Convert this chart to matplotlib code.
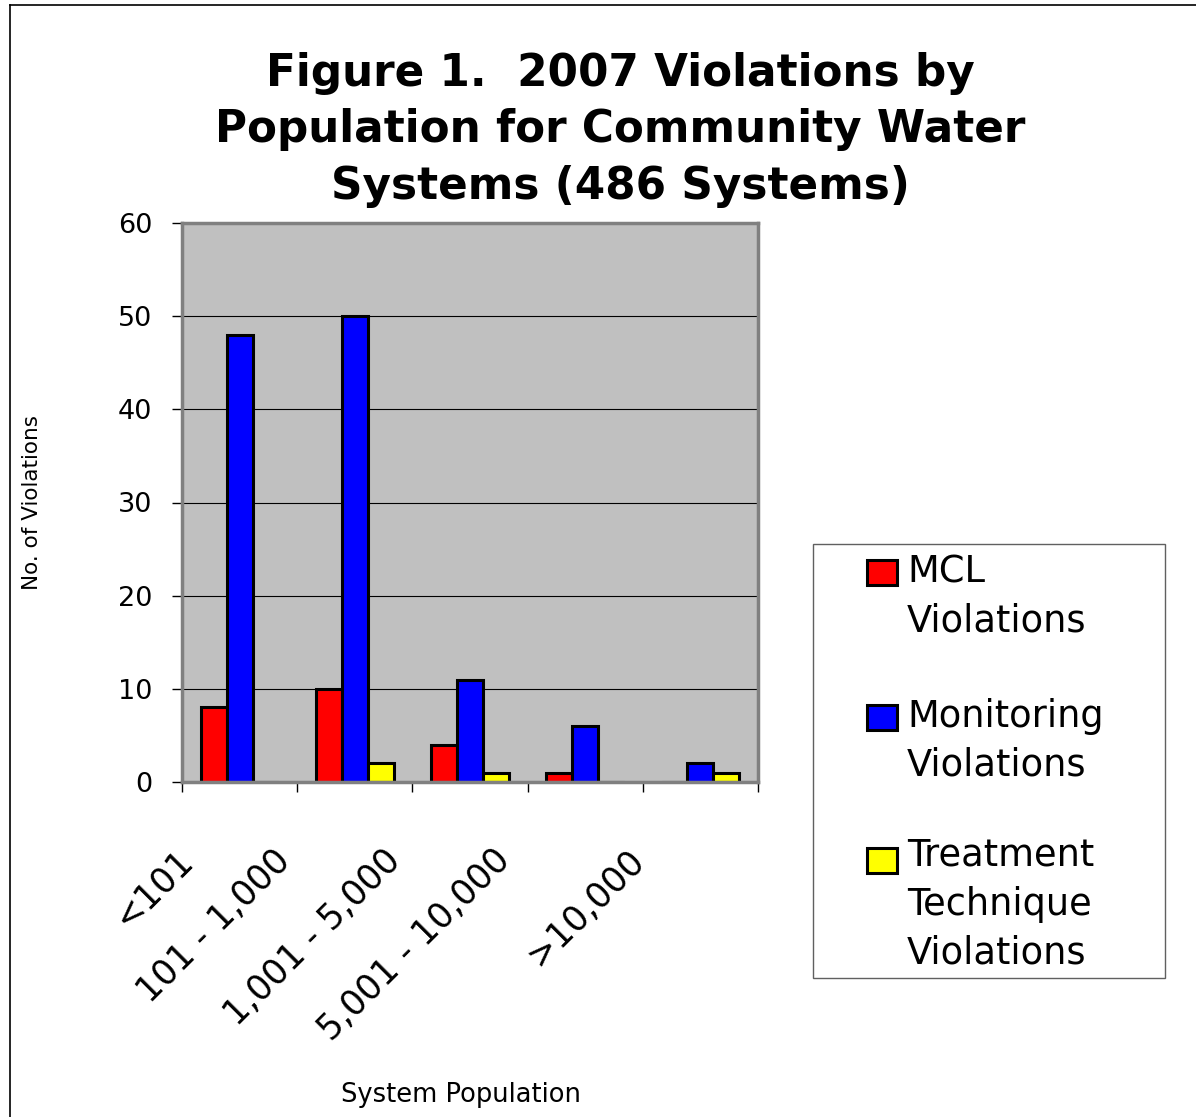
import numpy as np
import matplotlib
matplotlib.use('Agg')
import matplotlib.pyplot as plt
import matplotlib.transforms as mtransforms
from matplotlib.patches import Rectangle
from matplotlib.lines import Line2D

# data
categories = ['<101', '101 - 1,000', '1,001 - 5,000', '5,001 - 10,000', '>10,000']
mcl = [8, 10, 4, 1, 0]
monitoring = [48, 50, 11, 6, 2]
treatment = [0, 2, 1, 0, 1]
series_names = ['MCL\nViolations', 'Monitoring\nViolations', 'Treatment\nTechnique\nViolations']
series_colors = ['#FF0000', '#0000FF', '#FFFF00']
yticks = [0, 10, 20, 30, 40, 50, 60]

W, H = 1196, 1117

def fx(x):
    return x / float(W)

def fy(y):
    return 1 - y / float(H)

plt.rcParams['font.family'] = 'DejaVu Sans'

fig = plt.figure(figsize=(W / 100.0, H / 100.0), dpi=100)
fig.patch.set_facecolor('white')

# outer frame of the chart
fig.add_artist(Line2D([fx(10), fx(10)], [fy(5), 0], transform=fig.transFigure, color='black', lw=1.2))
fig.add_artist(Line2D([fx(10), 1], [fy(5), fy(5)], transform=fig.transFigure, color='black', lw=1.2))

ax = fig.add_axes([fx(182), fy(782), fx(758) - fx(182), fy(223) - fy(782)])
ax.set_facecolor('#C0C0C0')

x = np.arange(len(categories))
width = 0.225
edge_lw = 2.2
ax.bar(x - width, mcl, width, color=series_colors[0], edgecolor='black', linewidth=edge_lw, zorder=3)
ax.bar(x, monitoring, width, color=series_colors[1], edgecolor='black', linewidth=edge_lw, zorder=3)
ax.bar(x + width, treatment, width, color=series_colors[2], edgecolor='black', linewidth=edge_lw, zorder=3)

ax.set_xlim(-0.5, len(categories) - 0.5)
ax.set_ylim(0, 60)
ax.set_yticks(yticks)
ax.set_yticklabels([str(v) for v in yticks], fontsize=19.5)
ax.yaxis.grid(True, color='black', linewidth=0.8, zorder=1)
ax.set_axisbelow(True)
ax.tick_params(axis='y', direction='out', length=7.2, width=1, color='black', pad=14)

# ticks between the categories, labels drawn separately
ax.set_xticks(np.arange(len(categories) + 1) - 0.5)
ax.set_xticklabels([])
ax.tick_params(axis='x', direction='out', length=7.2, width=1, color='black')

for sp in ax.spines.values():
    sp.set_color('#808080')
    sp.set_linewidth(2.5)
    sp.set_zorder(4)

# rotated category labels (Excel style placement)
label_shift = [-0.56, -0.71, -0.755, -0.80, -0.64]
trans = mtransforms.blended_transform_factory(ax.transData, ax.transAxes)
for i in range(len(categories)):
    ax.text(x[i] + label_shift[i], -0.109, categories[i], transform=trans,
            rotation=45, rotation_mode='anchor', ha='right', va='top', fontsize=25)

# va='baseline' on multi-line text sits on the last line
fig.text(fx(620), fy(199), 'Figure 1.  2007 Violations by\nPopulation for Community Water\nSystems (486 Systems)',
         ha='center', va='baseline', fontsize=31.5, fontweight='bold', linespacing=1.4)
fig.text(fx(32), fy(503), 'No. of Violations', rotation=90, ha='center', va='center', fontsize=15.5)
fig.text(fx(461), fy(1095), 'System Population', ha='center', va='center', fontsize=18.5)

# legend box
fig.add_artist(Rectangle((fx(813), fy(978)), fx(1165) - fx(813), fy(544) - fy(978),
                         transform=fig.transFigure, facecolor='white', edgecolor='#606060', lw=1))
first_base = [586, 731, 874]
last_base = [632, 776, 964]
for i in range(len(series_names)):
    b = first_base[i]
    fig.add_artist(Rectangle((fx(867), fy(b - 1)), fx(897) - fx(867), fy(b - 26) - fy(b - 1),
                             transform=fig.transFigure, facecolor=series_colors[i],
                             edgecolor='black', lw=2.2))
    fig.text(fx(907), fy(last_base[i]), series_names[i], ha='left', va='baseline',
             fontsize=26.5, linespacing=1.42)

fig.savefig('out.png', dpi=100)
